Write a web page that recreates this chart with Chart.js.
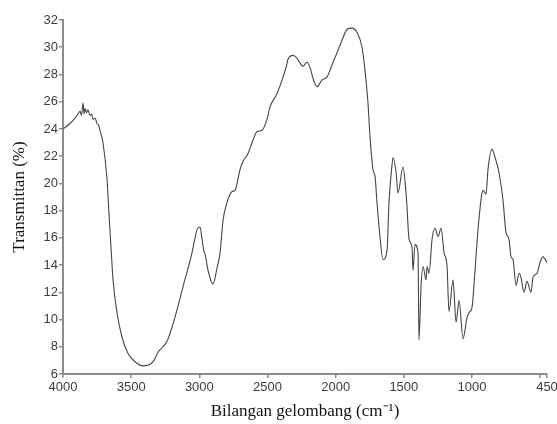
<!DOCTYPE html>
<html>
<head>
<meta charset="utf-8">
<script src="https://cdn.jsdelivr.net/npm/chart.js@4/dist/chart.umd.min.js"></script>
<style>
    html, body { margin: 0; padding: 0; background: #ffffff; }
    #wrap { width: 557px; height: 424px; position: relative; }
</style>
</head>
<body>
<div id="wrap"><canvas id="chart"></canvas></div>
<script>
// FTIR spectrum
const wavenumbers = [
    4000, 3949, 3912, 3890, 3875, 3865, 3853, 3845, 3839, 3828, 3817, 3802, 3790, 3780, 3765,
    3751, 3740, 3729, 3707, 3677, 3663, 3648, 3633, 3604, 3567, 3523, 3472, 3413, 3362, 3333,
    3303, 3237, 3178, 3120, 3054, 3017, 2995, 2980, 2966, 2958, 2936, 2900, 2870, 2848, 2826,
    2797, 2760, 2738, 2702, 2680, 2643, 2606, 2577, 2540, 2504, 2482, 2430, 2386, 2357, 2350,
    2313, 2284, 2240, 2210, 2188, 2166, 2137, 2100, 2064, 2027, 1990, 1954, 1917, 1880, 1844,
    1807, 1785, 1763, 1748, 1726, 1711, 1697, 1675, 1653, 1623, 1609, 1590, 1579, 1557, 1543,
    1506, 1484, 1477, 1462, 1440, 1433, 1418, 1396, 1389, 1374, 1359, 1337, 1330, 1315, 1293,
    1271, 1249, 1227, 1205, 1183, 1169, 1139, 1117, 1095, 1066, 1037, 1022, 1000, 978, 956,
    927, 919, 897, 883, 853, 831, 802, 773, 751, 729, 714, 699, 677, 655, 641,
    619, 597, 567, 553, 523, 501, 479, 450,
];
const transmittance = [
    24.0, 24.4, 24.8, 25.1, 25.3, 25.0, 25.9, 25.1, 25.5, 25.2, 25.4, 25.0, 25.1, 24.7, 24.8,
    24.4, 24.3, 23.9, 23.0, 20.3, 17.8, 15.3, 12.9, 10.5, 8.7, 7.5, 6.9, 6.6, 6.7, 7.0,
    7.6, 8.4, 10.2, 12.4, 14.9, 16.6, 16.8, 15.9, 15.0, 14.8, 13.6, 12.6, 13.8, 14.9, 17.3,
    18.6, 19.4, 19.5, 21.0, 21.6, 22.2, 23.2, 23.8, 23.9, 24.7, 25.6, 26.6, 27.8, 28.8, 29.1,
    29.4, 29.2, 28.6, 28.9, 28.5, 27.7, 27.1, 27.6, 27.8, 28.7, 29.6, 30.5, 31.3, 31.4, 31.1,
    30.0, 28.3, 25.9, 23.4, 21.0, 20.5, 18.6, 16.1, 14.4, 15.1, 18.6, 21.0, 21.9, 20.8, 19.3,
    21.2, 19.3, 18.3, 15.9, 15.3, 13.6, 15.5, 14.9, 8.5, 12.4, 13.9, 12.9, 13.9, 13.4, 15.9,
    16.7, 16.1, 16.7, 14.9, 13.9, 10.6, 12.9, 9.8, 11.4, 8.6, 10.1, 10.5, 10.9, 13.6, 16.6,
    19.3, 19.5, 19.2, 21.0, 22.5, 21.9, 20.8, 18.8, 16.4, 15.9, 14.6, 14.4, 12.5, 13.4, 13.1,
    12.0, 12.8, 12.0, 13.1, 13.4, 14.2, 14.6, 14.2,
];
const xTickValues = [4000, 3500, 3000, 2500, 2000, 1500, 1000, 500, 450];
const xTickLabels = ["4000", "3500", "3000", "2500", "2000", "1500", "1000", "", "450"];

const axisColor = "#8c8c8c";
const tickFont = { family: "'Liberation Sans', Arial, sans-serif", size: 13 };
const titleFont = { family: "'Liberation Serif', 'Times New Roman', serif", size: 17 };

const points = wavenumbers.map((w, i) => ({ x: w, y: transmittance[i] }));

new Chart(document.getElementById("chart"), {
    type: "line",
    data: {
        datasets: [
            {
                data: points,
                borderColor: "#454545",
                borderWidth: 1.1,
                pointRadius: 0,
                cubicInterpolationMode: "monotone",
                fill: false,
            },
        ],
    },
    options: {
        responsive: true,
        maintainAspectRatio: false,
        animation: false,
        layout: { padding: { top: 20, right: 10, bottom: 2, left: 0 } },
        plugins: {
            legend: { display: false },
            tooltip: { enabled: false },
        },
        scales: {
            x: {
                type: "linear",
                reverse: true,
                min: 450,
                max: 4000,
                afterBuildTicks: (scale) => {
                    scale.ticks = xTickValues.map((v) => ({ value: v }));
                },
                afterFit: (scale) => {
                    scale.height = 48;
                    scale.paddingLeft = 0;
                    scale.paddingRight = 0;
                },
                ticks: {
                    autoSkip: false,
                    maxRotation: 0,
                    padding: 2,
                    color: "#3c3c48",
                    font: tickFont,
                    callback: (value, index) => xTickLabels[index],
                },
                grid: {
                    drawOnChartArea: false,
                    drawTicks: true,
                    tickLength: 4,
                    color: axisColor,
                    lineWidth: 1.5,
                },
                border: { color: axisColor, width: 2 },
                title: {
                    display: true,
                    text: "Bilangan gelombang (cm\u207B\u00B9)",
                    color: "#111111",
                    font: titleFont,
                    padding: { top: 2, bottom: 0 },
                },
            },
            y: {
                min: 6,
                max: 32,
                afterFit: (scale) => {
                    scale.width = 63;
                    scale.paddingTop = 0;
                    scale.paddingBottom = 0;
                },
                ticks: {
                    stepSize: 2,
                    padding: 1,
                    color: "#3c3c48",
                    font: tickFont,
                },
                grid: {
                    drawOnChartArea: false,
                    drawTicks: true,
                    tickLength: 4,
                    color: axisColor,
                    lineWidth: 1.5,
                },
                border: { color: axisColor, width: 2 },
                title: {
                    display: true,
                    text: "Transmittan (%)",
                    color: "#111111",
                    font: titleFont,
                    padding: { top: 9, bottom: 0 },
                },
            },
        },
    },
});
</script>
</body>
</html>
